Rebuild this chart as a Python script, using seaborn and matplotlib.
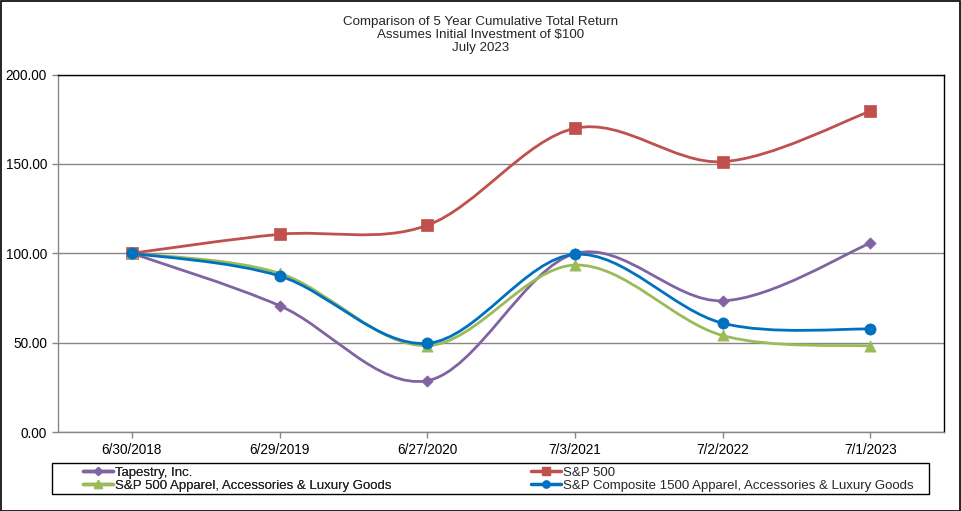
import numpy as np
import pandas as pd
import matplotlib
matplotlib.use('Agg')
import matplotlib.pyplot as plt
from matplotlib.path import Path
from matplotlib.patches import PathPatch, Rectangle
from matplotlib.lines import Line2D
import seaborn as sns

# data
dates = ['6/30/2018', '6/29/2019', '6/27/2020', '7/3/2021', '7/2/2022', '7/1/2023']
tapestry = [100.0, 70.7, 28.7, 99.8, 73.4, 105.6]
sp500 = [100.0, 110.6, 115.6, 169.9, 151.2, 179.4]
sp500_apparel = [100.0, 88.8, 48.3, 93.4, 54.0, 48.1]
sp1500_apparel = [100.0, 87.3, 49.6, 99.4, 60.9, 57.6]

series_names = ['Tapestry, Inc.', 'S&P 500',
                'S&P 500 Apparel, Accessories & Luxury Goods',
                'S&P Composite 1500 Apparel, Accessories & Luxury Goods']
series_values = [tapestry, sp500, sp500_apparel, sp1500_apparel]
colors = ['#8064A2', '#C0504D', '#9BBB59', '#0070C0']
markers = ['D', 's', '^', 'o']
msizes = [5, 7, 7, 7]

sns.set_style("white")
plt.rcParams['font.family'] = ['Liberation Sans', 'DejaVu Sans']

df = pd.DataFrame({'Date': np.tile(dates, 4),
                   'Series': np.repeat(series_names, len(dates)),
                   'Value': np.concatenate(series_values)})

fig = plt.figure(figsize=(9.61, 5.11), dpi=100)
ax = fig.add_axes([58 / 961, 1 - 432 / 511, (944 - 58) / 961, (432 - 74.5) / 511])

grey = '#868686'


def smooth_path(ys):
    # excel-like smoothed line: cubic bezier between the points
    pts = np.column_stack([np.arange(len(ys)), ys]).astype(float)
    ext = np.vstack([pts[0], pts, pts[-1]])
    verts = [pts[0]]
    codes = [Path.MOVETO]
    for i in range(len(pts) - 1):
        p0, p1, p2, p3 = ext[i], ext[i + 1], ext[i + 2], ext[i + 3]
        c1 = p1 + (p2 - p0) / 6
        c2 = p2 - (p3 - p1) / 6
        verts += [c1, c2, p2]
        codes += [Path.CURVE4] * 3
    return Path(verts, codes)


for name, vals, col, mk, ms in zip(series_names, series_values, colors, markers, msizes):
    ax.add_patch(PathPatch(smooth_path(vals), facecolor='none', edgecolor=col, lw=2.0,
                           zorder=3, capstyle='round', joinstyle='round'))
    sub = df[df['Series'] == name]
    sns.scatterplot(x=np.arange(len(dates)), y=sub['Value'].values, marker=mk,
                    color=col, s=(ms * 1.15) ** 2, edgecolor=col, linewidth=0.5,
                    ax=ax, zorder=4, legend=False)

ax.set_xlim(-0.5, len(dates) - 0.5)
ax.set_ylim(0, 200)
ax.set_xticks(range(len(dates)))
ax.set_xticklabels(dates)
ax.set_yticks([0, 50, 100, 150, 200])
ax.set_yticklabels(['%.2f' % v for v in [0, 50, 100, 150, 200]])
ax.yaxis.grid(True, color=grey, lw=1)
ax.set_axisbelow(True)
ax.set_xlabel('')
ax.set_ylabel('')
ax.tick_params(axis='both', labelsize=9.8, colors='black', length=4, width=1,
               direction='out', color=grey)
ax.tick_params(axis='x', bottom=True, pad=4)
ax.tick_params(axis='y', left=True, pad=4)
ax.spines['left'].set_color(grey)
ax.spines['bottom'].set_color(grey)
ax.spines['top'].set_color('black')
ax.spines['right'].set_color('black')
for s in ax.spines.values():
    s.set_linewidth(1)

fig.text(0.5, 1 - 16.5 / 511, 'Comparison of 5 Year Cumulative Total Return\n'
         'Assumes Initial Investment of $100\nJuly 2023',
         ha='center', va='top', fontsize=9.6, linespacing=1.08)

# legend: row-wise order like the reference, two columns placed separately
handles = [Line2D([], [], color=c, marker=m, lw=2.5, markersize=ms * 0.75)
           for c, m, ms in zip(colors, markers, msizes)]
leg_kw = dict(loc='upper left', fontsize=9.5, frameon=False, handlelength=2.3,
              handletextpad=0.15, borderpad=0, labelspacing=0.05, borderaxespad=0)
leg1 = fig.legend([handles[0], handles[2]], [series_names[0], series_names[2]],
                  bbox_to_anchor=(83 / 961, 1 - 466.5 / 511), **leg_kw)
fig.add_artist(leg1)
leg2 = fig.legend([handles[1], handles[3]], [series_names[1], series_names[3]],
                  bbox_to_anchor=(531 / 961, 1 - 466.5 / 511), **leg_kw)
fig.patches.append(Rectangle((52 / 961, 1 - 494 / 511), (929 - 52) / 961, 31 / 511,
                             transform=fig.transFigure, fill=False,
                             edgecolor='black', lw=1))

fig.patches.append(Rectangle((0.5 / 961, 0.5 / 511), 1 - 1.5 / 961, 1 - 1.5 / 511,
                             transform=fig.transFigure, fill=False,
                             edgecolor='black', lw=1.2))

fig.savefig('out.png', dpi=100)
plt.close(fig)
